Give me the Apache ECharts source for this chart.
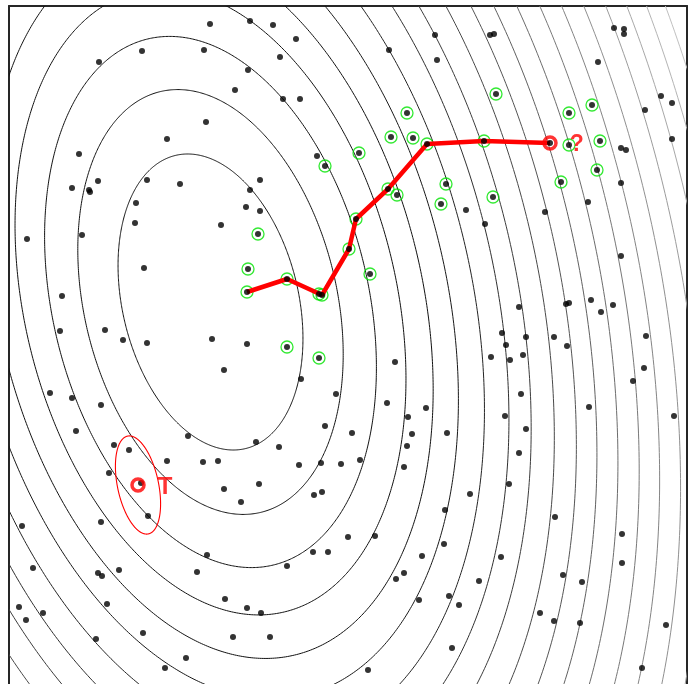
<!DOCTYPE html>
<html>
<head>
<meta charset="utf-8">
<script src="https://cdn.jsdelivr.net/npm/echarts@6/dist/echarts.min.js"></script>
<style>
  html, body { margin: 0; padding: 0; background: #ffffff; overflow: hidden; }
  #chart { width: 698px; height: 700px; }
</style>
</head>
<body>
<div id="chart"></div>
<script>
// Sample locations (all black dots)
const samplePoints = [
  [20.1,66.0],[24.1,66.3],[26.4,65.9],[28.7,64.5],[13.3,63.3],[19.5,63.4],[9.0,62.2],[27.1,62.7],
  [23.9,61.4],[22.6,59.4],[27.4,58.5],[29.1,58.5],[19.7,56.2],[15.8,54.5],[7.0,53.0],[30.8,52.8],
  [31.6,51.8],[8.9,50.3],[13.8,50.4],[17.1,50.0],[25.1,50.4],[6.3,49.6],[8.0,49.4],[8.1,49.2],
  [24.1,49.4],[12.7,48.1],[23.7,47.7],[25.1,47.3],[12.6,46.1],[21.2,45.9],[1.8,44.5],[7.3,44.9],
  [24.9,45.0],[23.9,41.5],[13.5,41.6],[5.3,38.8],[23.8,39.2],[27.8,40.5],[31.0,39.0],[31.3,38.9],
  [5.1,35.3],[9.6,35.4],[11.4,34.4],[13.8,34.1],[20.3,34.5],[23.8,34.0],[27.8,33.7],[34.0,43.5],
  [42.6,64.9],[38.0,63.4],[42.8,62.4],[48.1,64.9],[48.5,65.0],[60.5,65.6],[61.5,65.5],[61.5,65.0],
  [58.9,62.2],[48.7,59.0],[39.8,57.1],[56.0,57.1],[58.3,57.9],[65.2,58.8],[66.3,58.1],[63.6,57.4],
  [38.2,54.7],[40.4,54.6],[41.8,54.0],[47.5,54.3],[54.1,54.1],[56.0,53.9],[59.1,54.3],[66.3,54.5],
  [61.2,53.6],[61.7,53.4],[35.0,53.1],[58.8,51.4],[55.2,50.2],[61.2,50.1],[43.7,50.0],[38.8,48.9],
  [37.9,49.5],[43.2,48.0],[48.4,48.7],[57.9,48.2],[45.7,47.4],[53.6,47.2],[47.6,46.0],[34.7,46.5],
  [36.1,41.0],[61.2,42.8],[51.0,37.7],[55.7,38.0],[56.0,38.1],[58.2,38.4],[59.2,37.2],[60.4,37.9],
  [49.3,35.1],[49.7,33.9],[51.7,34.7],[54.5,34.7],[55.8,33.8],[63.7,34.8],[31.0,32.6],[21.5,31.4],
  [29.2,30.5],[4.1,29.1],[6.3,28.6],[9.2,27.9],[32.7,29.0],[31.6,25.8],[6.7,25.3],[17.9,24.8],
  [24.7,24.2],[27.0,23.7],[10.5,23.9],[12.0,23.4],[15.8,22.3],[19.4,22.2],[20.9,22.3],[29.0,21.9],
  [31.2,22.1],[33.2,22.0],[10.0,21.1],[13.2,20.1],[21.5,19.5],[25.0,20.0],[30.5,18.9],[31.3,19.2],
  [23.2,18.2],[13.9,16.8],[9.2,16.2],[1.3,15.8],[33.9,14.7],[19.8,12.9],[30.4,13.2],[31.9,13.2],
  [27.8,11.8],[2.4,11.6],[8.9,11.1],[9.3,10.8],[11.0,11.4],[18.8,11.2],[21.6,8.5],[23.8,7.6],
  [25.2,7.1],[9.8,8.0],[1.0,7.7],[3.4,7.1],[1.7,6.4],[13.4,5.1],[8.7,4.5],[22.4,4.7],
  [26.1,4.7],[17.7,2.6],[15.6,1.6],[38.6,32.2],[48.2,32.7],[50.1,32.4],[51.4,32.9],[63.5,31.6],
  [62.4,30.3],[51.2,29.0],[37.8,28.1],[41.7,27.6],[58.0,27.7],[39.9,26.7],[49.6,26.8],[66.5,26.8],
  [34.3,25.1],[40.3,25.0],[43.8,25.1],[51.7,25.5],[39.8,23.8],[35.1,22.4],[39.5,21.7],[51.0,23.1],
  [50.0,20.0],[46.1,19.0],[43.6,17.4],[54.6,16.7],[36.6,14.8],[43.5,14.0],[61.3,15.0],[41.3,12.8],
  [49.2,12.7],[61.3,12.1],[39.5,11.1],[38.7,10.5],[55.4,10.9],[57.3,10.2],[47.0,10.3],[41.0,8.4],
  [44.0,8.8],[45.0,7.9],[53.1,7.1],[54.5,6.3],[57.1,6.1],[65.7,5.9],[44.3,3.6],[35.9,1.4],
  [63.3,1.6]
];

// Neighbourhood samples (green rings)
const neighbourPoints = [
  [31.6,51.8],[24.9,45.0],[23.9,41.5],[23.8,39.2],[27.8,40.5],[31.0,39.0],[31.3,38.9],[27.8,33.7],
  [34.0,43.5],[48.7,59.0],[39.8,57.1],[56.0,57.1],[58.3,57.9],[38.2,54.7],[40.4,54.6],[41.8,54.0],
  [47.5,54.3],[56.0,53.9],[59.1,54.3],[35.0,53.1],[58.8,51.4],[55.2,50.2],[43.7,50.0],[38.8,48.9],
  [37.9,49.5],[43.2,48.0],[48.4,48.7],[34.7,46.5],[36.1,41.0],[31.0,32.6]
];

// Search path, from start to the query location
const pathPoints = [
  [23.8,39.2],[27.8,40.5],[31.3,38.9],[34.0,43.5],[34.7,46.5],[37.9,49.5],[41.8,54.0],[47.5,54.3],[54.1,54.1]
];

const queryPoint = [54.1, 54.1];
const queryLabel = '?';
const targetPoint = [12.9, 19.9];
const targetLabel = 'T';

// Uncertainty ellipse around the target: semi-axes and orientation (degrees)
const targetEllipseAxes = [5.0, 2.05];
const targetEllipseAngle = 102;

// Quadratic cost surface: centre, semi-axes at level 1, orientation, contour levels
const contourCenter = [20.15, 38.2];
const contourAxes = [15.07, 8.80];
const contourAngle = 103.4;
const contourLevels = [1, 2.06, 3.22, 4.47, 5.8, 7.19, 8.78, 10.42, 12.03, 13.83,
  15.66, 17.47, 19.42, 21.5, 23.6, 25.85, 28.2, 30.57, 32.9, 35.2];

function ellipsePath(api, cx, cy, a, b, angDeg) {
  const th = angDeg * Math.PI / 180;
  const c = Math.cos(th), s = Math.sin(th);
  const pts = [];
  for (let k = 0; k <= 720; k++) {
    const t = k * Math.PI / 360;
    const u = a * Math.cos(t), v = b * Math.sin(t);
    pts.push(api.coord([cx + u * c - v * s, cy + u * s + v * c]));
  }
  return pts;
}

function contourShade(i) {
  const g = Math.round(Math.min(200, Math.max(17, (i - 3) * 12)));
  return 'rgb(' + g + ',' + g + ',' + g + ')';
}

const frameLine = { show: true, onZero: false, lineStyle: { color: '#262626', width: 2 } };
const hidden = { axisTick: { show: false }, axisLabel: { show: false }, splitLine: { show: false } };

const chart = echarts.init(document.getElementById('chart'), null, { renderer: 'canvas' });

const option = {
  animation: false,
  backgroundColor: '#ffffff',
  grid: { left: 9, top: 6, width: 678, height: 680, show: false, outerBoundsMode: 'none' },
  xAxis: Object.assign({ type: 'value', position: 'top', min: 0, max: 67.8, axisLine: frameLine }, hidden),
  yAxis: [
    Object.assign({ type: 'value', position: 'left', min: -0.2, max: 67.8, axisLine: frameLine }, hidden),
    Object.assign({ type: 'value', position: 'right', min: -0.2, max: 67.8, axisLine: frameLine }, hidden)
  ],
  series: [
    {
      type: 'custom',
      name: 'contours',
      coordinateSystem: 'cartesian2d',
      clip: true,
      silent: true,
      z: 1,
      data: contourLevels.map((L, i) => [L, i]),
      renderItem: function (params, api) {
        const L = api.value(0);
        const i = api.value(1);
        const r = Math.sqrt(L);
        return {
          type: 'polyline',
          shape: {
            points: ellipsePath(api, contourCenter[0], contourCenter[1],
              contourAxes[0] * r, contourAxes[1] * r, contourAngle)
          },
          style: { stroke: contourShade(i), lineWidth: 1, fill: null }
        };
      }
    },
    {
      type: 'custom',
      name: 'target-ellipse',
      coordinateSystem: 'cartesian2d',
      clip: true,
      silent: true,
      z: 2,
      data: [targetPoint],
      renderItem: function (params, api) {
        return {
          type: 'polyline',
          shape: {
            points: ellipsePath(api, api.value(0), api.value(1),
              targetEllipseAxes[0], targetEllipseAxes[1], targetEllipseAngle)
          },
          style: { stroke: '#ff0000', lineWidth: 1.1, fill: null }
        };
      }
    },
    {
      type: 'scatter',
      name: 'neighbours',
      z: 3,
      symbol: 'circle',
      symbolSize: 12,
      itemStyle: { color: 'rgba(0,0,0,0)', borderColor: '#00e400', borderWidth: 1.3 },
      data: neighbourPoints
    },
    {
      type: 'line',
      name: 'path',
      z: 4,
      showSymbol: false,
      lineStyle: { color: '#ff0000', width: 4.5 },
      data: pathPoints
    },
    {
      type: 'scatter',
      name: 'samples',
      z: 5,
      symbol: 'circle',
      symbolSize: 6,
      itemStyle: { color: '#000000' },
      data: samplePoints
    },
    {
      type: 'scatter',
      name: 'markers',
      z: 6,
      symbol: 'circle',
      symbolSize: 12,
      itemStyle: { color: 'rgba(0,0,0,0)', borderColor: '#ff0000', borderWidth: 3.5 },
      label: {
        show: true,
        position: 'right',
        color: '#ff0000',
        fontWeight: 'bold',
        fontFamily: 'Liberation Sans',
        offset: [0, 2]
      },
      data: [
        { value: queryPoint, label: { formatter: queryLabel, fontSize: 23, distance: 12 } },
        { value: targetPoint, label: { formatter: targetLabel, fontSize: 24, distance: 12 } }
      ]
    }
  ]
};

chart.setOption(option);
</script>
</body>
</html>
